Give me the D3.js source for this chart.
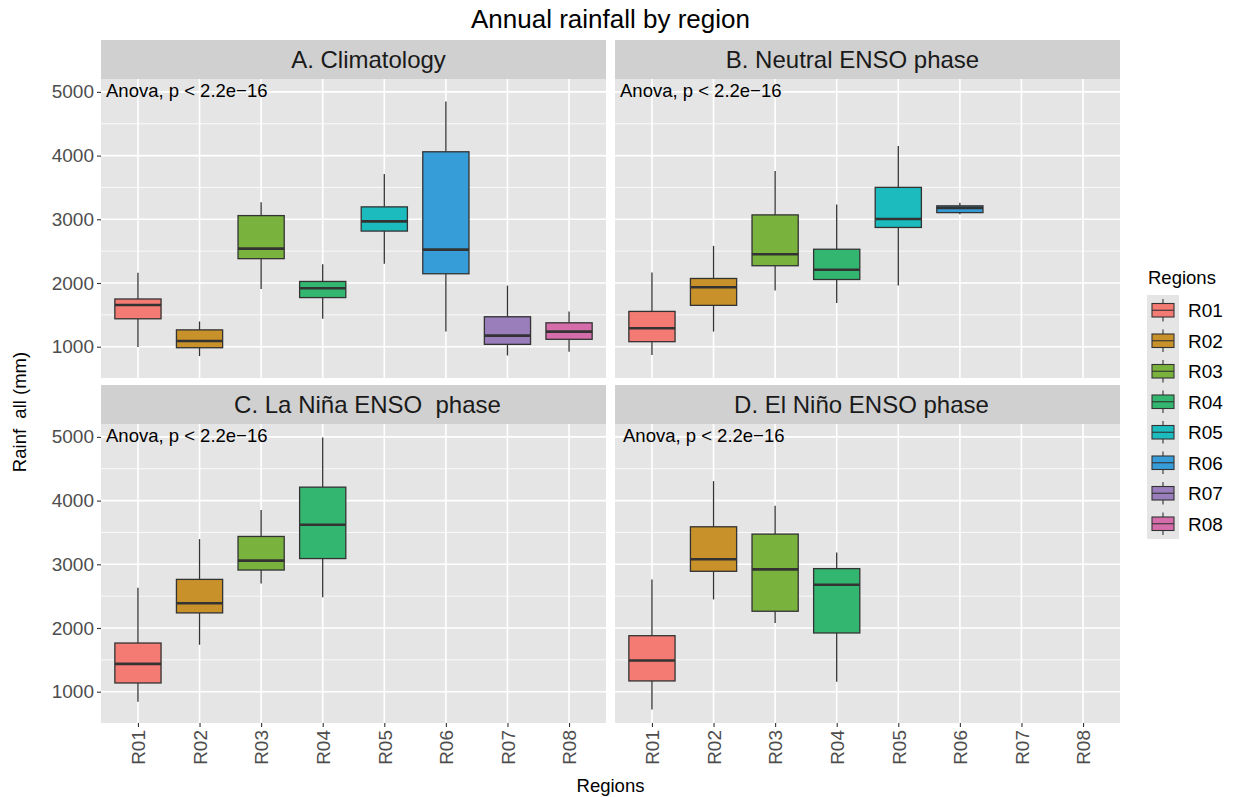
<!DOCTYPE html>
<html>
<head>
<meta charset="utf-8">
<script src="https://cdn.jsdelivr.net/npm/d3@7"></script>
<style>
  html, body { margin: 0; padding: 0; background: #fff; }
  svg { display: block; font-family: "Liberation Sans", Arial, Helvetica, sans-serif; }
  .pre { white-space: pre; }
</style>
</head>
<body>
<svg id="chart" width="1233" height="797"></svg>
<script>
// Regions shown on the x axis and in the legend
const regions = ["R01", "R02", "R03", "R04", "R05", "R06", "R07", "R08"];
const regionColors = ["#F47B73", "#C8912A", "#79B33D", "#33B770", "#1BBBBE", "#379DD9", "#9A7DBB", "#D56DAA"];

// Facet titles
const phases = ["A. Climatology", "B. Neutral ENSO phase", "C. La Niña ENSO  phase", "D. El Niño ENSO phase"];

// Box statistics per phase: [lower whisker, Q1, median, Q3, upper whisker] in mm
const climatology = [
  ["R01", 995, 1438, 1654, 1749, 2160],
  ["R02", 852, 984, 1090, 1264, 1396],
  ["R03", 1907, 2382, 2540, 3058, 3268],
  ["R04", 1438, 1771, 1918, 2024, 2293],
  ["R05", 2303, 2815, 2967, 3195, 3711],
  ["R06", 1237, 2145, 2524, 4060, 4851],
  ["R07", 862, 1037, 1174, 1470, 1960],
  ["R08", 921, 1116, 1237, 1375, 1554]
];
const neutral = [
  ["R01", 868, 1079, 1290, 1554, 2166],
  ["R02", 1237, 1649, 1934, 2071, 2583],
  ["R03", 1882, 2271, 2451, 3069, 3759],
  ["R04", 1686, 2055, 2208, 2530, 3232],
  ["R05", 1960, 2872, 3005, 3501, 4150],
  ["R06", 3078, 3105, 3179, 3211, 3258]
];
const laNina = [
  ["R01", 842, 1137, 1437, 1764, 2632],
  ["R02", 1737, 2237, 2389, 2763, 3395],
  ["R03", 2700, 2910, 3058, 3437, 3852],
  ["R04", 2484, 3090, 3620, 4211, 4989]
];
const elNino = [
  ["R01", 722, 1169, 1490, 1879, 2763],
  ["R02", 2448, 2890, 3079, 3589, 4305],
  ["R03", 2080, 2263, 2921, 3474, 3920],
  ["R04", 1158, 1922, 2680, 2932, 3185]
];
const phaseData = [climatology, neutral, laNina, elNino];

const yTicks = [1000, 2000, 3000, 4000, 5000];
const yMinorTicks = [1500, 2500, 3500, 4500];
const testLabel = "Anova, p < 2.2e\u221216";
const labelValue = 5000;

const svg = d3.select("#chart");

// Facet geometry
const colX = [101, 615];
const panelW = 505;
const stripH = 39;
const rowTop = [40, 385];
const panelH = 299;
// horizontal shift of each strip title from the strip centre
const stripShift = [15, -15, 14, -6];

// Shared y scale with 5% padding around the data range
const allVals = phaseData.flat().flatMap(d => d.slice(1));
const yMin = d3.min(allVals), yMax = d3.max(allVals);
const pad = (yMax - yMin) * 0.05;
const y = d3.scaleLinear().domain([yMin - pad, yMax + pad]).range([panelH, 0]);

// Discrete x scale: 0.6 units of expansion on each side
const x = d3.scalePoint().domain(regions).range([0, panelW]).padding(0.6);
const boxW = x.step() * 0.75;
const color = d3.scaleOrdinal().domain(regions).range(regionColors);

// Title
svg.append("text").attr("x", (colX[0] + colX[1] + panelW) / 2).attr("y", 28)
  .attr("text-anchor", "middle").attr("font-size", 26).attr("fill", "#000")
  .text("Annual rainfall by region");

phaseData.forEach((data, i) => {
  const col = i % 2, row = Math.floor(i / 2);
  const px = colX[col], sy = rowTop[row], py = sy + stripH;

  // Strip
  svg.append("rect").attr("x", px).attr("y", sy).attr("width", panelW).attr("height", stripH).attr("fill", "#D0D0D0");
  svg.append("text").attr("class", "pre").attr("x", px + panelW / 2 + stripShift[i]).attr("y", sy + stripH / 2)
    .attr("dy", "0.36em").attr("text-anchor", "middle").attr("font-size", 24).attr("fill", "#1A1A1A")
    .text(phases[i]);

  const g = svg.append("g").attr("transform", `translate(${px},${py})`);
  g.append("rect").attr("width", panelW).attr("height", panelH).attr("fill", "#E5E5E5");

  // Grid
  g.selectAll(".minor").data(yMinorTicks).join("line")
    .attr("x1", 0).attr("x2", panelW).attr("y1", d => y(d)).attr("y2", d => y(d))
    .attr("stroke", "#fff").attr("stroke-width", 0.8);
  g.selectAll(".majorY").data(yTicks).join("line")
    .attr("x1", 0).attr("x2", panelW).attr("y1", d => y(d)).attr("y2", d => y(d))
    .attr("stroke", "#fff").attr("stroke-width", 1.6);
  g.selectAll(".majorX").data(regions).join("line")
    .attr("x1", d => x(d)).attr("x2", d => x(d)).attr("y1", 0).attr("y2", panelH)
    .attr("stroke", "#fff").attr("stroke-width", 1.6);

  // Boxes
  const b = g.selectAll(".box").data(data).join("g");
  b.append("line").attr("x1", d => x(d[0])).attr("x2", d => x(d[0]))
    .attr("y1", d => y(d[1])).attr("y2", d => y(d[2])).attr("stroke", "#333").attr("stroke-width", 1.3);
  b.append("line").attr("x1", d => x(d[0])).attr("x2", d => x(d[0]))
    .attr("y1", d => y(d[4])).attr("y2", d => y(d[5])).attr("stroke", "#333").attr("stroke-width", 1.3);
  b.append("rect").attr("x", d => x(d[0]) - boxW / 2).attr("width", boxW)
    .attr("y", d => y(d[4])).attr("height", d => y(d[2]) - y(d[4]))
    .attr("fill", d => color(d[0])).attr("stroke", "#333").attr("stroke-width", 1.3);
  b.append("line").attr("x1", d => x(d[0]) - boxW / 2).attr("x2", d => x(d[0]) + boxW / 2)
    .attr("y1", d => y(d[3])).attr("y2", d => y(d[3])).attr("stroke", "#333").attr("stroke-width", 2.6);

  // Test annotation
  g.append("text").attr("x", (col === 1 && row === 1) ? 8 : 5).attr("y", y(labelValue) - 2)
    .attr("dy", "0.36em").attr("font-size", 18.5).attr("fill", "#000").text(testLabel);

  // Y axis on left column
  if (col === 0) {
    const ya = g.append("g").call(d3.axisLeft(y).tickValues(yTicks).tickSize(4).tickPadding(3).tickFormat(d3.format("d")));
    ya.select(".domain").remove();
    ya.selectAll("line").attr("stroke", "#333").attr("stroke-width", 1.1);
    ya.selectAll("text").attr("font-size", 19).attr("fill", "#4D4D4D").attr("font-family", null);
  }
  // X axis on bottom row
  if (row === 1) {
    const xa = g.append("g").attr("transform", `translate(0,${panelH})`)
      .call(d3.axisBottom(x).tickSize(4).tickPadding(3));
    xa.select(".domain").remove();
    xa.selectAll("line").attr("stroke", "#333").attr("stroke-width", 1.1);
    xa.selectAll("text").attr("font-size", 19).attr("fill", "#4D4D4D").attr("font-family", null)
      .attr("transform", "rotate(-90)").attr("text-anchor", "end")
      .attr("x", -7).attr("y", 0).attr("dy", "0.36em");
  }
});

// Axis titles
svg.append("text").attr("x", (colX[0] + colX[1] + panelW) / 2).attr("y", 792)
  .attr("text-anchor", "middle").attr("font-size", 18.5).attr("fill", "#000").text("Regions");
svg.append("text").attr("class", "pre").attr("transform", "translate(26,412) rotate(-90)")
  .attr("text-anchor", "middle").attr("font-size", 18.5).attr("fill", "#000")
  .text("Rainf  all (mm)");

// Legend
const lg = svg.append("g").attr("transform", "translate(1147,295)");
lg.append("text").attr("x", 1).attr("y", -11).attr("font-size", 18.5).attr("fill", "#000").text("Regions");
const keyH = 30.5, keyW = 32;
lg.append("rect").attr("width", keyW).attr("height", keyH * regions.length).attr("fill", "#E5E5E5");
const items = lg.selectAll(".key").data(regions).join("g")
  .attr("transform", (d, i) => `translate(0,${i * keyH})`);
items.append("line").attr("x1", keyW / 2).attr("x2", keyW / 2).attr("y1", 4).attr("y2", keyH - 4)
  .attr("stroke", "#333").attr("stroke-width", 1.1);
items.append("rect").attr("x", 5).attr("y", 8.5).attr("width", keyW - 10).attr("height", keyH - 17)
  .attr("fill", d => color(d)).attr("stroke", "#333").attr("stroke-width", 1.1);
items.append("line").attr("x1", 5).attr("x2", keyW - 5).attr("y1", keyH / 2).attr("y2", keyH / 2)
  .attr("stroke", "#333").attr("stroke-width", 1.1);
items.append("text").attr("x", keyW + 9).attr("y", keyH / 2).attr("dy", "0.36em")
  .attr("font-size", 19).attr("fill", "#000").text(d => d);
</script>
</body>
</html>
